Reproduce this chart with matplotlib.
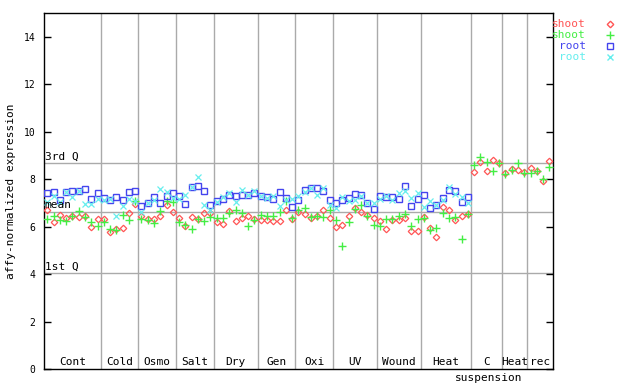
import numpy as np
import matplotlib
matplotlib.use("Agg")
import matplotlib.pyplot as plt

plt.rcParams['font.family'] = ['DejaVu Sans Mono']

# groups along the x axis (number of samples in each)
groups = ['Cont', 'Cold', 'Osmo', 'Salt', 'Dry', 'Gen', 'Oxi', 'UV', 'Wound', 'Heat', 'C', 'Heat', 'rec']
group_sizes = [9, 6, 6, 6, 7, 6, 6, 7, 7, 8, 5, 4, 4]

# shoot values (all samples)
shoot_red = [6.69, 6.18, 6.49, 6.35, 6.44, 6.40, 6.44, 5.99, 6.30, 6.30, 5.79, 5.90, 5.94, 6.58, 6.95,
             6.44, 6.32, 6.32, 6.44, 6.89, 6.60, 6.37, 6.04, 6.41, 6.32, 6.58, 6.58, 6.20, 6.11, 6.66, 6.24,
             6.35, 6.46, 6.30, 6.27, 6.27, 6.23, 6.25, 6.69, 6.32, 6.63, 6.52, 6.38, 6.44, 6.72, 6.37,
             5.99, 6.08, 6.46, 6.80, 6.63, 6.50, 6.35, 6.23, 5.90, 6.27, 6.27, 6.35, 5.83, 5.83,
             6.41, 5.96, 5.56, 6.83, 6.68, 6.28, 6.45, 6.54,
             8.30, 8.73, 8.35, 8.79, 8.68, 8.27, 8.44, 8.37, 8.30, 8.48, 8.34, 7.92, 8.76]
shoot_green = [6.30, 6.46, 6.28, 6.24, 6.44, 6.65, 6.42, 6.18, 6.01, 6.21, 5.90, 5.87, 6.48, 6.27, 7.07,
               6.30, 6.27, 6.15, 6.65, 7.07, 7.04, 6.20, 6.08, 5.90, 6.30, 6.25, 6.41, 6.37, 6.37, 6.58, 6.69,
               6.58, 6.01, 6.27, 6.49, 6.46, 6.46, 6.61, 7.06, 6.38, 6.72, 6.79, 6.41, 6.44, 6.42, 6.72,
               6.27, 5.17, 6.20, 6.75, 6.89, 6.46, 6.08, 6.01, 6.30, 6.32, 6.46, 6.55, 6.01, 6.32,
               6.37, 5.85, 5.94, 6.58, 6.37, 6.41, 5.48, 6.54,
               8.58, 8.94, 8.73, 8.34, 8.69, 8.23, 8.40, 8.68, 8.24, 8.27, 8.34, 8.01, 8.52]

# root values (no root samples for the cell suspension part)
root_blue = [7.42, 7.46, 7.13, 7.45, 7.49, 7.52, 7.59, 7.17, 7.42, 7.21, 7.13, 7.25, 7.13, 7.46, 7.49,
             6.87, 7.01, 7.25, 7.01, 7.28, 7.42, 7.28, 6.97, 7.68, 7.73, 7.49, 6.92, 7.07, 7.18, 7.35, 7.27,
             7.34, 7.35, 7.42, 7.28, 7.25, 7.17, 7.46, 7.20, 6.83, 7.11, 7.56, 7.62, 7.62, 7.49, 7.11,
             7.00, 7.11, 7.21, 7.38, 7.34, 7.00, 6.75, 7.30, 7.25, 7.25, 7.17, 7.70, 6.86, 7.17,
             7.34, 6.79, 6.92, 7.20, 7.54, 7.51, 7.04, 7.25]
root_cyan = [7.03, 7.28, 7.03, 7.45, 7.24, 7.52, 6.96, 6.97, 7.17, 7.10, 7.17, 6.46, 6.86, 7.17, 7.07,
             6.61, 7.00, 7.11, 7.59, 7.45, 7.21, 7.17, 7.34, 7.68, 8.10, 6.92, 6.69, 7.04, 7.25, 7.42, 7.03,
             7.56, 7.35, 7.48, 7.31, 7.21, 7.28, 6.86, 7.14, 7.17, 7.28, 7.45, 7.62, 7.34, 7.63, 6.93,
             6.77, 7.25, 7.06, 7.11, 7.28, 7.00, 7.00, 7.17, 7.31, 7.11, 7.42, 7.49, 7.21, 7.42,
             6.83, 7.08, 6.92, 7.14, 7.68, 7.37, 7.25, 7.00]

q3, mean, q1 = 8.70, 6.63, 4.06

red = '#ff5555'
green = '#44ee44'
blue = '#4444ee'
cyan = '#66eeee'
grid_col = '#aaaaaa'

fig = plt.figure(figsize=(6.4, 3.84), dpi=100)
ax = fig.add_axes([44 / 640, 15 / 384, 509 / 640, 356 / 384])

n = len(shoot_red)
xs = np.arange(n)
xr = np.arange(len(root_blue))

# horizontal reference lines
for v, lab in [(q3, '3rd Q'), (mean, 'mean'), (q1, '1st Q')]:
    ax.axhline(v, color=grid_col, lw=1, zorder=1)
    ax.text(-0.45, v + 0.05, lab, fontsize=8, va='bottom', ha='left', zorder=5)

# group separators and labels
bounds = np.cumsum(group_sizes)
starts = bounds - np.array(group_sizes)
for b in bounds[:-1]:
    ax.axvline(b - 0.5, color=grid_col, lw=1, zorder=1)
for g, s, b in zip(groups, starts, bounds):
    ax.text((s + b - 1) / 2, 0.1, g, fontsize=8, ha='center', va='bottom')
ax.text((starts[10] + bounds[10] - 1) / 2 + 0.4, -0.15, 'suspension', fontsize=8,
        ha='center', va='top', clip_on=False)

ax.plot(xs, shoot_red, ls='none', marker='D', ms=3.3, mfc='none', mec=red, mew=0.9, zorder=3)
ax.plot(xs, shoot_green, ls='none', marker='+', ms=5.5, mec=green, mew=1.0, zorder=3)
ax.plot(xr, root_blue, ls='none', marker='s', ms=4, mfc='none', mec=blue, mew=1.0, zorder=3)
ax.plot(xr, root_cyan, ls='none', marker='x', ms=4, mec=cyan, mew=0.9, zorder=3)

ax.set_xlim(-0.53, n - 0.42)
ax.set_ylim(0, 15)
ax.set_yticks(np.arange(0, 15, 2))
ax.set_xticks([])
ax.tick_params(axis='y', direction='in', length=5, labelsize=7, right=True, width=1, pad=6)
for sp in ax.spines.values():
    sp.set_linewidth(1)
ax.set_ylabel('affy-normalized expression', fontsize=8, labelpad=6)

# legend on the right
leg = [('shoot', red, 'D', 3.3), ('shoot', green, '+', 5.5), ('root', blue, 's', 4), ('root', cyan, 'x', 4)]
for i, (lab, col, mk, ms) in enumerate(leg):
    y = 1 - (24 + i * 11) / 384
    fig.text(586 / 640, y, lab, color=col, fontsize=8, ha='right', va='center')
    fig.lines.append(plt.Line2D([609.5 / 640], [y], transform=fig.transFigure, ls='none',
                                marker=mk, ms=ms, mfc='none', mec=col, mew=1.0))

fig.savefig('out.png', dpi=100)
